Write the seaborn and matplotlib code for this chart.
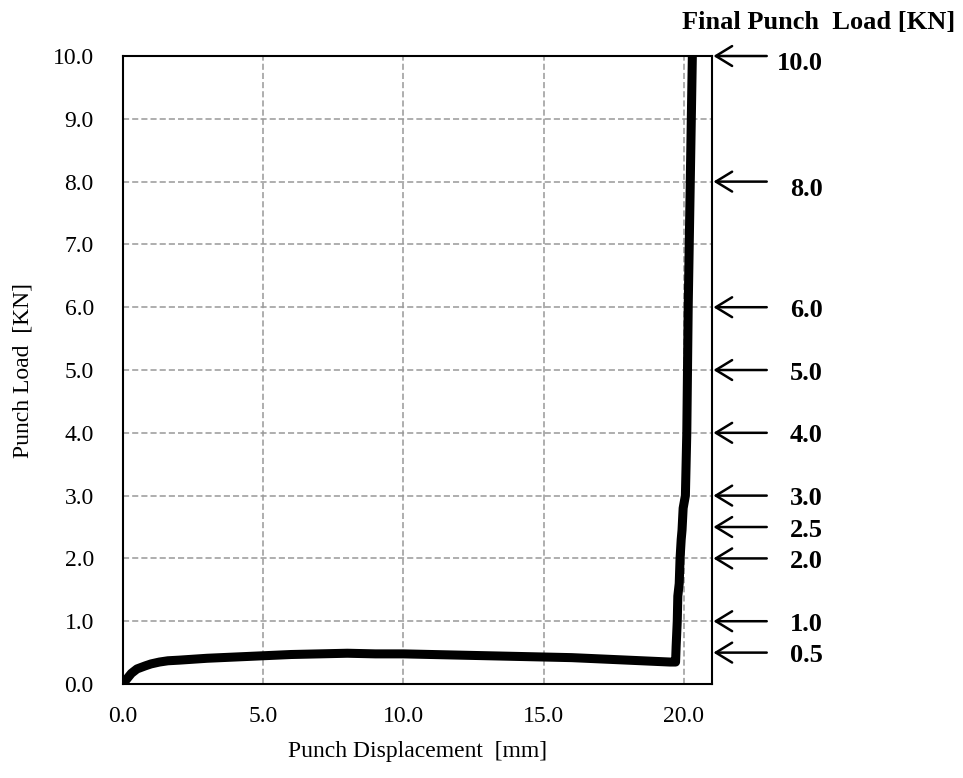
import matplotlib
matplotlib.use("Agg")
import matplotlib.pyplot as plt
import seaborn as sns
import numpy as np

# Curva carga x deslocamento
deslocamento = [0.0, 0.1, 0.3, 0.5, 0.8, 1.0, 1.3, 1.6, 2.0, 3.0, 4.0, 5.0, 6.0, 7.0,
                8.0, 9.0, 10.0, 11.0, 12.0, 13.0, 14.0, 15.0, 16.0, 17.0, 18.0, 19.0,
                19.5, 19.70, 19.72, 19.76, 19.78, 19.83, 19.86, 19.90, 19.93, 19.97,
                20.05, 20.10, 20.15, 20.32]
carga = [0.0, 0.06, 0.17, 0.24, 0.29, 0.32, 0.35, 0.37, 0.38, 0.41, 0.43, 0.45, 0.47, 0.48,
         0.49, 0.48, 0.48, 0.47, 0.46, 0.45, 0.44, 0.43, 0.42, 0.40, 0.38, 0.36,
         0.35, 0.35, 0.6, 1.0, 1.4, 1.6, 2.0, 2.3, 2.45, 2.8,
         3.0, 4.0, 6.0, 10.6]

# Cargas finais indicadas pelas setas
cargas_finais = [10.0, 8.0, 6.0, 5.0, 4.0, 3.0, 2.5, 2.0, 1.0, 0.5]
rotulos_finais = ["10.0", "8.0", "6.0", "5.0", "4.0", "3.0", "2.5", "2.0", "1.0", "0.5"]

xticks = [0, 5, 10, 15, 20]
yticks = np.arange(0, 11, 1)

sns.set_style("white")
plt.rcParams['font.family'] = ['Liberation Serif', 'DejaVu Serif']
plt.rcParams['text.color'] = 'black'
plt.rcParams['axes.labelcolor'] = 'black'
plt.rcParams['xtick.color'] = 'black'
plt.rcParams['ytick.color'] = 'black'

fig = plt.figure(figsize=(9.63, 7.78), dpi=100)
ax = fig.add_axes([0.1277, 0.1208, 0.6117, 0.8072])

sns.lineplot(x=deslocamento, y=carga, ax=ax, color='black', linewidth=6.5,
             estimator=None, sort=False, solid_capstyle='round', zorder=3)

ax.set_xlim(0, 21)
ax.set_ylim(0, 10)
ax.set_xticks(xticks)
ax.set_xticklabels([f"{v:.1f}" for v in xticks])
ax.set_yticks(yticks)
ax.set_yticklabels([f"{v:.1f}" for v in yticks])
ax.tick_params(direction='in', length=5, width=1.2, labelsize=17,
               color='black', labelcolor='black')
ax.tick_params(axis='x', pad=16)
ax.tick_params(axis='y', pad=21)
ax.grid(True, color='#999999', linestyle=(0, (4, 2)), linewidth=1.1)
for s in ax.spines.values():
    s.set_visible(True)
    s.set_color('black')
    s.set_linewidth(1.5)

ax.set_xlabel("Punch Displacement  [mm]", fontsize=17, labelpad=10, color='black')
ax.set_ylabel("Punch Load  [KN]", fontsize=17, labelpad=14, color='black')

for v, txt in zip(cargas_finais, rotulos_finais):
    ax.annotate("", xy=(21.05, v), xytext=(22.95, v), xycoords='data',
                annotation_clip=False,
                arrowprops=dict(arrowstyle='->, head_length=0.9, head_width=0.55',
                                mutation_scale=13, lw=1.8, color='black',
                                shrinkA=0, shrinkB=0))
    off = 0.12 if v >= 8 else 0.05
    ax.text(24.95, v - off, txt, ha='right', va='center', fontsize=19,
            fontweight='bold', color='black', clip_on=False)

fig.text(955 / 963, 1 - 22 / 778, "Final Punch  Load [KN]", ha='right', va='center',
         fontsize=19, fontweight='bold', color='black')

plt.savefig("out.png", dpi=100)
plt.close()
